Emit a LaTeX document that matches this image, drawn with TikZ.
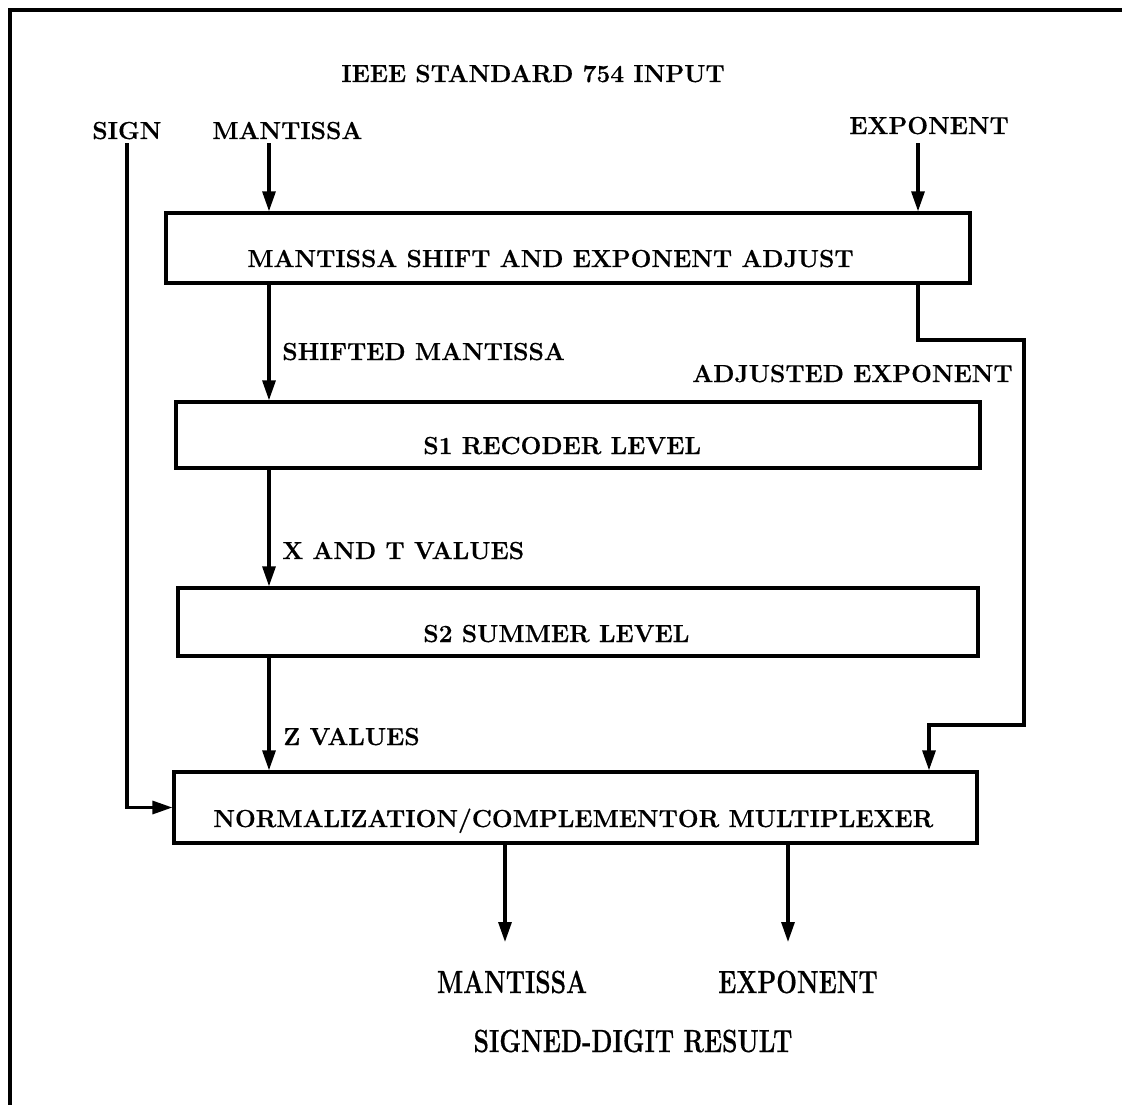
\documentclass[tikz,border=0pt]{standalone}
\usepackage{fontspec}
\newfontfamily\hvfont[FakeBold=0.5]{Latin Modern Roman}
\usetikzlibrary{arrows.meta}
\begin{document}
\begin{tikzpicture}[x=0.02cm,y=-0.02cm,
  txt/.style={font=\hvfont\fontsize{14}{17}\selectfont\bfseries, inner sep=0pt},
  btxt/.style={txt, yscale=1.3, transform shape},
  blk/.style={draw, line width=1.9pt, inner sep=0pt},
  wire/.style={line width=1.8pt},
  arr/.style={wire, -{Triangle[length=0.4cm,width=0.26cm]}}]
\useasboundingbox (0,0) rectangle (1122,1105);
\fill[white] (0,0) rectangle (1122,1105);
% outer frame (only top and left visible)
\draw[line width=2.3pt] (10,1110) -- (10,10) -- (1130,10);

% blocks
\node[blk, minimum width=16.08cm, minimum height=1.40cm] (B1) at (568,248) {};
\node[blk, minimum width=16.08cm, minimum height=1.32cm] (B2) at (578,435) {};
\node[blk, minimum width=16.00cm, minimum height=1.36cm] (B3) at (578,622) {};
\node[blk, minimum width=16.06cm, minimum height=1.42cm] (B4) at (575.5,807.5) {};

% block texts
\node[txt, anchor=base west] (t1) at (247,267) {MANTISSA SHIFT AND EXPONENT ADJUST};
\node[txt, anchor=base west] (t2) at (423,454) {S1 RECODER LEVEL};
\node[txt, anchor=base west] (t3) at (423,642) {S2 SUMMER LEVEL};
\node[txt, anchor=base west] (t4) at (213,827) {NORMALIZATION/COMPLEMENTOR MULTIPLEXER};

% input labels
\node[txt, anchor=base west] (title) at (341,82) {IEEE STANDARD 754 INPUT};
\node[txt, anchor=base west] (sign) at (92,139) {SIGN};
\node[txt, anchor=base west] (mant) at (212,139) {MANTISSA};
\node[txt, anchor=base west] (expo) at (849,134) {EXPONENT};

% connector labels
\node[txt, anchor=base west] (lsm) at (282,360) {SHIFTED MANTISSA};
\node[txt, anchor=base east] (lae) at (1013,382) {ADJUSTED EXPONENT};
\node[txt, anchor=base west] (lxt) at (282,559) {X AND T VALUES};
\node[txt, anchor=base west] (lz) at (283,745) {Z VALUES};

% output labels
\node[btxt, anchor=base] (omant) at (512,993) {MANTISSA};
\node[btxt, anchor=base] (oexpo) at (798,993) {EXPONENT};
\node[btxt, anchor=base] (sdr) at (633,1052) {SIGNED-DIGIT RESULT};

% coordinates
\coordinate (stop) at (127,143);
\coordinate (mtop) at (269,143);
\coordinate (etop) at (918,143);
\coordinate (a1) at (918,340);
\coordinate (a2) at (1024,340);
\coordinate (a3) at (1024,725);
\coordinate (a4) at (929,725);
\coordinate (outM) at (505,942);
\coordinate (outE) at (788,942);

% connectors
\draw[arr] (mtop) -- (mtop |- B1.north);
\draw[arr] (etop) -- (etop |- B1.north);
\draw[arr] (B1.south -| mtop) -- (B2.north -| mtop);
\draw[arr] (B2.south -| mtop) -- (B3.north -| mtop);
\draw[arr] (B3.south -| mtop) -- (B4.north -| mtop);
\draw[arr] (stop) |- (B4.west);
\draw[arr] (B1.south -| etop) -- (a1) -- (a2) -- (a3) -- (a4) -- (a4 |- B4.north);
\draw[arr] (B4.south -| outM) -- (outM);
\draw[arr] (B4.south -| outE) -- (outE);
\end{tikzpicture}
\end{document}
